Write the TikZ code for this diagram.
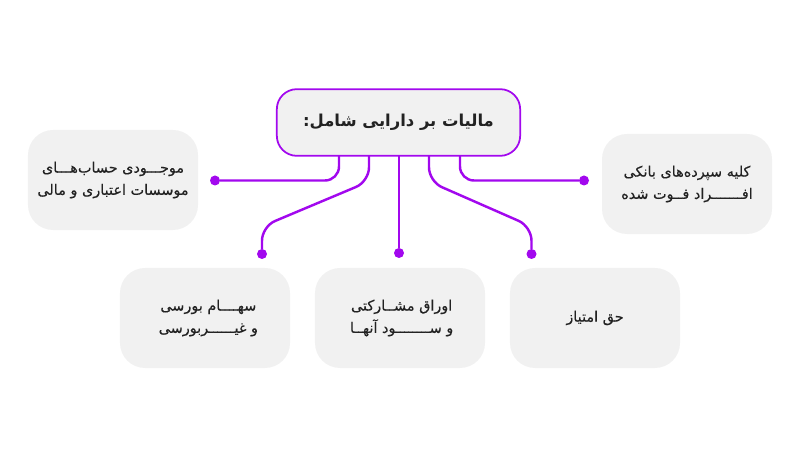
\documentclass[tikz,border=0pt]{standalone}
\usepackage{fontspec}
\TeXXeTstate=1
\newfontfamily\arabicfont[Script=Arabic]{DejaVu Sans}
\newfontfamily\arabicbody[Script=Arabic,FakeBold=0.25]{DejaVu Sans}
\definecolor{wirepurple}{HTML}{A208EE}
\definecolor{boxgray}{HTML}{F1F1F1}
\definecolor{inkgray}{HTML}{222222}
\begin{document}
\begin{tikzpicture}[x=0.03cm, y=-0.03cm,
    box/.style={fill=boxgray, rounded corners=0.75cm, minimum width=5.1cm, minimum height=3cm, align=center, text=inkgray, font=\arabicbody\fontsize{12.3}{19}\selectfont},
    mainbox/.style={draw=wirepurple, line width=1.5pt, fill=boxgray, rounded corners=0.6cm, minimum width=7.3cm, minimum height=2cm, align=center, text=inkgray, font=\arabicfont\bfseries\fontsize{14}{20}\selectfont},
    wire/.style={draw=wirepurple, line width=2.1pt, rounded corners=0.42cm},
    tip/.style={circle, fill=wirepurple, inner sep=0pt, minimum size=0.3cm}
]
    \useasboundingbox (0,0) rectangle (800,457);

    % Main box
    \node[mainbox] (main) at (398.5,122.5) {\beginR مالیات بر دارایی شامل:\endR};

    % Boxes around
    \node[box] (accounts) at (113,180) {\beginR موجـــودی حساب‌هـــای\endR\\\beginR موسسات اعتباری و مالی\endR};
    \node[box] (deposits) at (687,184) {\beginR کلیه سپرده‌های بانکی\endR\\\beginR افـــــــراد فــوت شده\endR};
    \node[box] (shares) at (205,318) {\hspace{0.2cm}\beginR سهــــام بورسی\endR\\\hspace{0.2cm}\beginR و غیــــــربورسی\endR};
    \node[box] (bonds) at (400,318) {\hspace{0.1cm}\beginR اوراق مشــارکتی\endR\\\hspace{0.1cm}\beginR و ســــــــود آنهــا\endR};
    \node[box] (rights) at (595,318) {\beginR حق امتیاز\endR};

    % Dots
    \node[tip] (tipA) at (215,180.5) {};
    \node[tip] (tipB) at (262,254) {};
    \node[tip] (tipC) at (399,253) {};
    \node[tip] (tipD) at (531.5,254) {};
    \node[tip] (tipE) at (584,180.5) {};

    % Start points on the main box
    \coordinate (startA) at (339,156);
    \coordinate (startB) at (369,156);
    \coordinate (startC) at (399,156);
    \coordinate (startD) at (429,156);
    \coordinate (startE) at (460,156);

    % Wires
    \draw[wire] (startA) |- (tipA);
    \draw[wire] (startB) -- (369,181.5) -- (262,226.5) -- (tipB);
    \draw[wire] (startC) -- (tipC);
    \draw[wire] (startD) -- (429,181.5) -- (531.5,226.5) -- (tipD);
    \draw[wire] (startE) |- (tipE);
\end{tikzpicture}
\end{document}
